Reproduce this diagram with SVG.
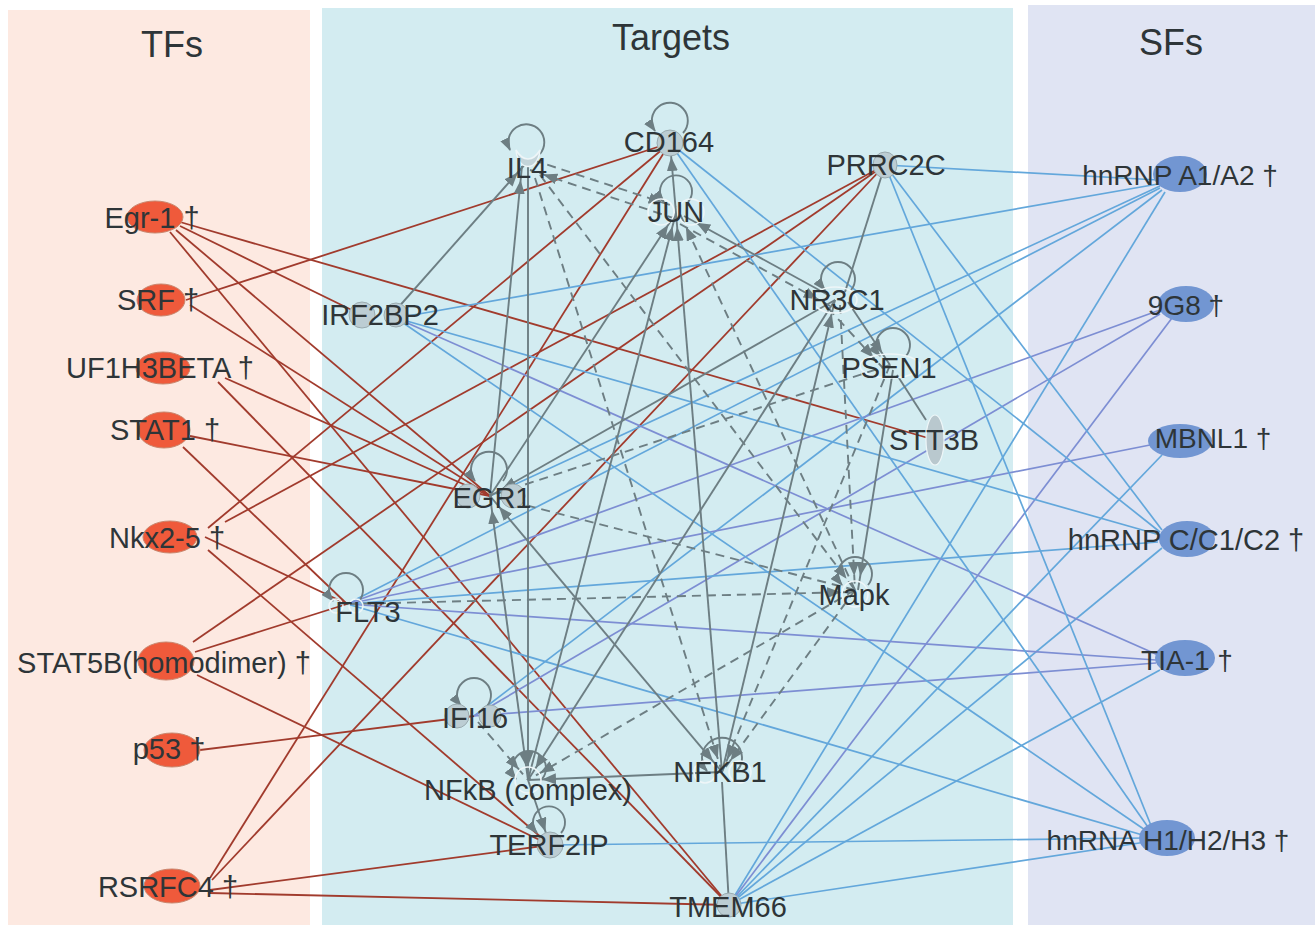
<svg xmlns="http://www.w3.org/2000/svg" width="1315" height="925" viewBox="0 0 1315 925">
<style>
.red{stroke:#a13b2d;stroke-width:1.8;fill:none}
.blue{stroke:#63a7db;stroke-width:1.7;fill:none}
.pur{stroke:#7d8ed3;stroke-width:1.7;fill:none}
.gray{stroke:#6d7e83;stroke-width:1.9;fill:none}
.dash{stroke-dasharray:9 6}
.arr{marker-end:url(#ah)}
.arr2{marker-start:url(#ah);marker-end:url(#ah)}
.loop{stroke:#6d7e83;stroke-width:1.9;fill:none;marker-end:url(#al)}
.lbl{font-family:"Liberation Sans",Arial,sans-serif;font-size:29px;fill:#2e3538;text-anchor:middle}
.sfl{font-size:28px}
.title{font-size:36px}
.tf{fill:#ef5a3b;stroke:#c9876f;stroke-width:1}
.sf{fill:#7296d2}
.tn{fill:#bccdd3;stroke:#9aabb0;stroke-width:1}
.hol{fill:none;stroke:#eef6f8;stroke-width:1.6}
</style>
<defs>
<marker id="ah" markerUnits="userSpaceOnUse" viewBox="0 0 14 11" markerWidth="14" markerHeight="11" refX="28" refY="5.5" orient="auto-start-reverse"><path d="M0,0 L14,5.5 L0,11 z" fill="#6d7e83"/></marker>
<marker id="al" markerUnits="userSpaceOnUse" viewBox="0 0 13 10" markerWidth="13" markerHeight="10" refX="12" refY="5" orient="auto"><path d="M0,0 L13,5 L0,10 z" fill="#6d7e83"/></marker>
</defs>
<rect width="1315" height="925" fill="#ffffff"/>
<g id="panels">
<rect x="8" y="10" width="302" height="915" fill="#fde9e1"/>
<rect x="322" y="8" width="691" height="917" fill="#d3ecf1"/>
<rect x="1028" y="5" width="287" height="920" fill="#e0e4f3"/>
<text class="lbl title" x="172" y="57">TFs</text>
<text class="lbl title" x="671" y="50">Targets</text>
<text class="lbl title" x="1171" y="55">SFs</text>
</g>
<g id="connectors">
<path class="red" d="M180,222 L935,440"/>
<path class="red" d="M180,226 L362,315"/>
<path class="red" d="M176,230 L490,496"/>
<path class="red" d="M170,232 L729,905"/>
<path class="red" d="M186,300 L670,143"/>
<path class="red" d="M190,305 L490,496"/>
<path class="red" d="M225,378 L490,496"/>
<path class="red" d="M218,382 L729,905"/>
<path class="red" d="M190,436 L490,496"/>
<path class="red" d="M183,447 L347,604"/>
<path class="red" d="M208,528 L670,143"/>
<path class="red" d="M225,522 L885,165"/>
<path class="red" d="M205,537 L347,604"/>
<path class="red" d="M208,550 L550,845"/>
<path class="red" d="M193,642 L885,165"/>
<path class="red" d="M195,652 L347,604"/>
<path class="red" d="M197,675 L550,845"/>
<path class="red" d="M200,750 L474,716"/>
<path class="red" d="M210,878 L670,143"/>
<path class="red" d="M212,880 L885,165"/>
<path class="red" d="M210,890 L550,845"/>
<path class="red" d="M210,893 L729,905"/>

<path class="blue" d="M1158,180 L885,165"/>
<path class="blue" d="M1158,184 L396,318"/>
<path class="blue" d="M1160,186 L490,496"/>
<path class="blue" d="M1160,188 L347,604"/>
<path class="blue" d="M1162,190 L474,716"/>
<path class="blue" d="M1165,192 L729,905"/>
<path class="pur" d="M1160,310 L347,604"/>
<path class="pur" d="M1172,318 L729,905"/>
<path class="pur" d="M1160,314 L474,716"/>
<path class="pur" d="M1150,445 L347,604"/>
<path class="blue" d="M1162,455 L729,905"/>
<path class="blue" d="M1160,535 L396,318"/>
<path class="blue" d="M1160,532 L670,143"/>
<path class="blue" d="M1162,530 L885,165"/>
<path class="blue" d="M1158,542 L347,604"/>
<path class="blue" d="M1162,548 L729,905"/>
<path class="pur" d="M1158,655 L396,318"/>
<path class="pur" d="M1156,660 L347,604"/>
<path class="pur" d="M1156,663 L474,716"/>
<path class="blue" d="M1160,670 L729,905"/>
<path class="blue" d="M1150,830 L670,143"/>
<path class="blue" d="M1152,828 L885,165"/>
<path class="blue" d="M1148,832 L396,318"/>
<path class="blue" d="M1146,836 L347,604"/>
<path class="blue" d="M1146,838 L550,845"/>
<path class="blue" d="M1146,842 L729,905"/>

<path class="gray arr" d="M396,310 L527,162"/>
<path class="gray dash arr" d="M533,160 L676,207"/>
<path class="gray dash arr" d="M676,219 L530,170"/>
<path class="gray arr" d="M676,213 L670,143"/>
<path class="gray arr" d="M490,496 L522,166"/>
<path class="gray arr" d="M528,166 L528,780"/>
<path class="gray dash arr" d="M540,175 L855,590"/>
<path class="gray dash arr" d="M535,178 L722,772"/>
<path class="gray arr" d="M490,496 L676,213"/>
<path class="gray arr" d="M528,780 L676,213"/>
<path class="gray arr" d="M722,772 L676,213"/>
<path class="gray dash arr" d="M855,590 L680,214"/>
<path class="gray arr" d="M830,296 L684,216"/>
<path class="gray dash arr" d="M680,224 L830,306"/>
<path class="gray" d="M885,165 L845,292"/>
<path class="gray arr" d="M848,302 L890,365"/>
<path class="gray dash arr" d="M828,308 L883,368"/>
<path class="gray" d="M897,375 L926,420"/>
<path class="gray arr" d="M835,300 L490,496"/>
<path class="gray arr" d="M835,300 L528,780"/>
<path class="gray arr" d="M722,772 L835,300"/>
<path class="gray dash arr" d="M840,305 L855,590"/>
<path class="gray dash arr" d="M890,365 L490,496"/>
<path class="gray dash arr" d="M890,365 L722,772"/>
<path class="gray arr" d="M893,370 L858,590"/>
<path class="gray dash arr" d="M855,590 L490,496"/>
<path class="gray dash arr" d="M347,604 L855,592"/>
<path class="gray dash arr" d="M855,590 L528,780"/>
<path class="gray dash arr" d="M855,590 L722,772"/>
<path class="gray arr2" d="M490,496 L722,772"/>
<path class="gray arr2" d="M528,780 L490,496"/>
<path class="gray dash arr" d="M478,722 L528,780"/>
<path class="gray arr" d="M722,772 L528,780"/>
<path class="gray" d="M722,782 L729,905"/>
<path class="gray arr" d="M528,780 L550,845"/>

<path class="loop" d="M540,154 A18,18 0 1 0 510,150"/>
<path class="loop" d="M683,133 A18,18 0 1 0 655,131"/>
<path class="loop" d="M688,202 A16,16 0 1 0 664,202"/>
<path class="loop" d="M851,290 A17,17 0 1 0 825,290"/>
<path class="loop" d="M906,356 A17,17 0 1 0 880,356"/>
<path class="loop" d="M503,481 A18,18 0 1 0 475,481"/>
<path class="loop" d="M359,601 A17,17 0 1 0 333,601"/>
<path class="loop" d="M868,585 A17,17 0 1 0 842,585"/>
<path class="loop" d="M487,706 A17,17 0 1 0 461,706"/>
<path class="loop" d="M542,779 A17,17 0 1 0 516,779"/>
<path class="loop" d="M737,771 A20,20 0 1 0 707,771"/>
<path class="loop" d="M561,833 A16,16 0 1 0 537,833"/>
</g>

<g id="IL4"><path d="M516,150 C518,172 538,172 540,150 C533,162 523,162 516,150 z" fill="#c3d4d9" stroke="#eef6f8" stroke-width="1.5"/><text class="lbl" x="527" y="178">IL4</text></g>
<g id="CD164"><circle class="tn" cx="670" cy="143" r="13"/><text class="lbl" x="669" y="152">CD164</text></g>
<g id="JUN"><circle class="hol" cx="661" cy="212" r="13"/><circle class="hol" cx="691" cy="212" r="13"/><text class="lbl" x="676" y="222">JUN</text></g>
<g id="PRRC2C"><ellipse class="tn" cx="885" cy="165" rx="12" ry="13"/><text class="lbl" x="886" y="175">PRRC2C</text></g>
<g id="IRF2BP2"><circle class="tn" cx="362" cy="315" r="13"/><circle class="tn" cx="396" cy="315" r="12"/><text class="lbl" x="380" y="325">IRF2BP2</text></g>
<g id="NR3C1"><ellipse class="hol" cx="835" cy="300" rx="22" ry="13"/><text class="lbl" x="837" y="310">NR3C1</text></g>
<g id="PSEN1"><ellipse class="hol" cx="890" cy="366" rx="30" ry="12"/><text class="lbl" x="889" y="378">PSEN1</text></g>
<g id="STT3B"><ellipse cx="935" cy="440" rx="9" ry="25" fill="#b9c8ce" stroke="#eef6f8" stroke-width="1.2"/><text class="lbl" x="934" y="450">STT3B</text></g>
<g id="EGR1"><circle class="tn" cx="468" cy="496" r="12"/><circle class="tn" cx="513" cy="496" r="12"/><text class="lbl" x="492" y="508">EGR1</text></g>
<g id="FLT3"><circle class="hol" cx="336" cy="606" r="7"/><circle class="hol" cx="356" cy="606" r="7"/><text class="lbl" x="368" y="622">FLT3</text></g>
<g id="Mapk"><circle class="hol" cx="855" cy="594" r="13"/><text class="lbl" x="854" y="605">Mapk</text></g>
<g id="IFI16"><circle class="tn" cx="457" cy="716" r="12"/><circle class="tn" cx="490" cy="716" r="11"/><text class="lbl" x="475" y="728">IFI16</text></g>
<g id="NFkB"><circle class="hol" cx="528" cy="780" r="13"/><text class="lbl" x="528" y="800">NFkB (complex)</text></g>
<g id="NFKB1"><circle class="hol" cx="705" cy="772" r="11"/><circle class="hol" cx="740" cy="772" r="11"/><text class="lbl" x="720" y="782">NFKB1</text></g>
<g id="TERF2IP"><circle class="tn" cx="550" cy="845" r="13"/><text class="lbl" x="549" y="855">TERF2IP</text></g>
<g id="TMEM66"><circle class="tn" cx="729" cy="905" r="12"/><text class="lbl" x="728" y="917">TMEM66</text></g>

<g id="Egr-1"><ellipse class="tf" cx="155" cy="217" rx="28" ry="16"/><text class="lbl" x="152" y="228">Egr-1 †</text></g>
<g id="SRF"><ellipse class="tf" cx="161" cy="300" rx="24" ry="16"/><text class="lbl" x="158" y="310">SRF †</text></g>
<g id="UF1H3BETA"><ellipse class="tf" cx="163" cy="368" rx="27" ry="16"/><text class="lbl" x="160" y="378">UF1H3BETA †</text></g>
<g id="STAT1"><ellipse class="tf" cx="164" cy="430" rx="26" ry="18"/><text class="lbl" x="165" y="440">STAT1 †</text></g>
<g id="Nkx2-5"><ellipse class="tf" cx="170" cy="537" rx="27" ry="16"/><text class="lbl" x="167" y="548">Nkx2-5 †</text></g>
<g id="STAT5B"><ellipse class="tf" cx="166" cy="661" rx="28" ry="19"/><text class="lbl" x="164" y="673">STAT5B(homodimer) †</text></g>
<g id="p53"><ellipse class="tf" cx="172" cy="750" rx="28" ry="17"/><text class="lbl" x="169" y="759">p53 †</text></g>
<g id="RSRFC4"><ellipse class="tf" cx="172" cy="886" rx="28" ry="17"/><text class="lbl" x="168" y="897">RSRFC4 †</text></g>

<g id="hnRNPA1A2"><ellipse class="sf" cx="1180" cy="174" rx="27" ry="18"/><text class="lbl sfl" x="1180" y="185">hnRNP A1/A2 †</text></g>
<g id="9G8"><ellipse class="sf" cx="1186" cy="304" rx="28" ry="18"/><text class="lbl sfl" x="1186" y="315">9G8 †</text></g>
<g id="MBNL1"><ellipse class="sf" cx="1180" cy="441" rx="32" ry="17"/><text class="lbl sfl" x="1213" y="448">MBNL1 †</text></g>
<g id="hnRNPC"><ellipse class="sf" cx="1187" cy="539" rx="28" ry="18"/><text class="lbl" x="1186" y="550">hnRNP C/C1/C2 †</text></g>
<g id="TIA-1"><ellipse class="sf" cx="1185" cy="658" rx="30" ry="18"/><text class="lbl sfl" x="1187" y="670">TIA-1 †</text></g>
<g id="hnRNAH1"><ellipse class="sf" cx="1167" cy="838" rx="28" ry="18"/><text class="lbl sfl" x="1168" y="850">hnRNA H1/H2/H3 †</text></g>
</svg>
